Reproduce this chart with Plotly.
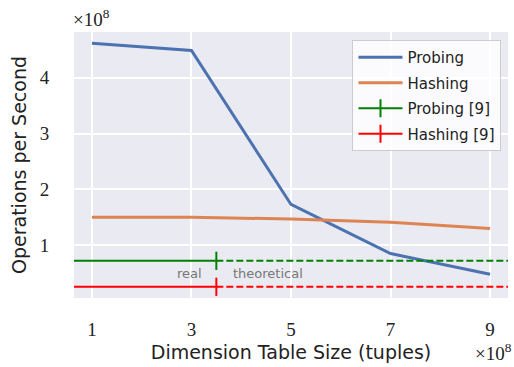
import plotly.graph_objects as go

sizes = [1, 3, 5, 7, 9]
probing = [4.62, 4.49, 1.73, 0.85, 0.48]
hashing = [1.50, 1.50, 1.47, 1.41, 1.30]

ref_split = 3.5
ref_real_x = [0.6, ref_split]
ref_theo_x = [ref_split, 9.4]
probing_ref = 0.72
hashing_ref = 0.255

x_ticks = [1, 3, 5, 7, 9]
y_ticks = [1, 2, 3, 4]

BLUE = "#4C72B0"
ORANGE = "#DD8452"
GREEN = "#008000"
RED = "#FF0000"

fig = go.Figure()
fig.add_trace(go.Scatter(x=sizes, y=probing, mode="lines", name="Probing",
                         line=dict(color=BLUE, width=3), legendgroup="a"))
fig.add_trace(go.Scatter(x=sizes, y=hashing, mode="lines", name="Hashing",
                         line=dict(color=ORANGE, width=3), legendgroup="b"))

for name, val, col, grp in [("Probing [9]", probing_ref, GREEN, "c"),
                            ("Hashing [9]", hashing_ref, RED, "d")]:
    fig.add_trace(go.Scatter(x=ref_real_x, y=[val, val], mode="lines+markers", name=name,
                             line=dict(color=col, width=2), legendgroup=grp,
                             marker=dict(symbol="line-ns", size=13,
                                         line=dict(color=col, width=2), color=col)))
    fig.add_trace(go.Scatter(x=ref_theo_x, y=[val, val], mode="lines", showlegend=False,
                             line=dict(color=col, width=2, dash="7px,3px"), legendgroup=grp))

fig.add_annotation(x=2.96, y=0.49, text="real", showarrow=False,
                   font=dict(family="DejaVu Sans", size=13, color="#777777"))
fig.add_annotation(x=4.53, y=0.49, text="theoretical", showarrow=False,
                   font=dict(family="DejaVu Sans", size=13, color="#777777"))

fig.add_annotation(xref="paper", yref="paper", x=0, y=1, xanchor="left", yanchor="bottom",
                   yshift=0, xshift=-3, text="×10<sup>8</sup>", showarrow=False,
                   font=dict(family="Liberation Serif", size=19, color="#222222"))
fig.add_annotation(xref="paper", yref="paper", x=1, y=0, xanchor="right", yanchor="top",
                   yshift=-40, xshift=6, text="×10<sup>8</sup>", showarrow=False,
                   font=dict(family="Liberation Serif", size=19, color="#222222"))

axis_common = dict(showgrid=True, gridcolor="white", gridwidth=1.5, zeroline=False,
                   showline=False, ticks="outside", tickcolor="rgba(0,0,0,0)",
                   automargin=False,
                   tickfont=dict(family="Liberation Serif", size=19, color="#222222"))

fig.update_layout(
    width=514, height=367,
    margin=dict(l=74, r=6, t=32, b=69),
    plot_bgcolor="#EAEAF2", paper_bgcolor="white",
    xaxis=dict(range=[0.64, 9.36], tickvals=x_ticks, ticklen=14,
               title=dict(text="Dimension Table Size (tuples)", standoff=6,
                          font=dict(family="DejaVu Sans", size=19, color="#222222")),
               **axis_common),
    yaxis=dict(range=[0.054, 4.82], tickvals=y_ticks, ticklen=20,
               title=dict(text="Operations per Second", standoff=8,
                          font=dict(family="DejaVu Sans", size=19, color="#222222")),
               **axis_common),
    legend=dict(x=0.985, y=0.97, xanchor="right", yanchor="top", xref="paper", yref="paper",
                bgcolor="rgba(255,255,255,0.8)", bordercolor="#CCCCCC", borderwidth=1,
                font=dict(family="DejaVu Sans", size=15, color="#222222"),
                itemwidth=44, traceorder="grouped", tracegroupgap=3),
)

fig.write_html("out.html", post_script="document.body.style.margin='0';",
               config={"displayModeBar": False})
